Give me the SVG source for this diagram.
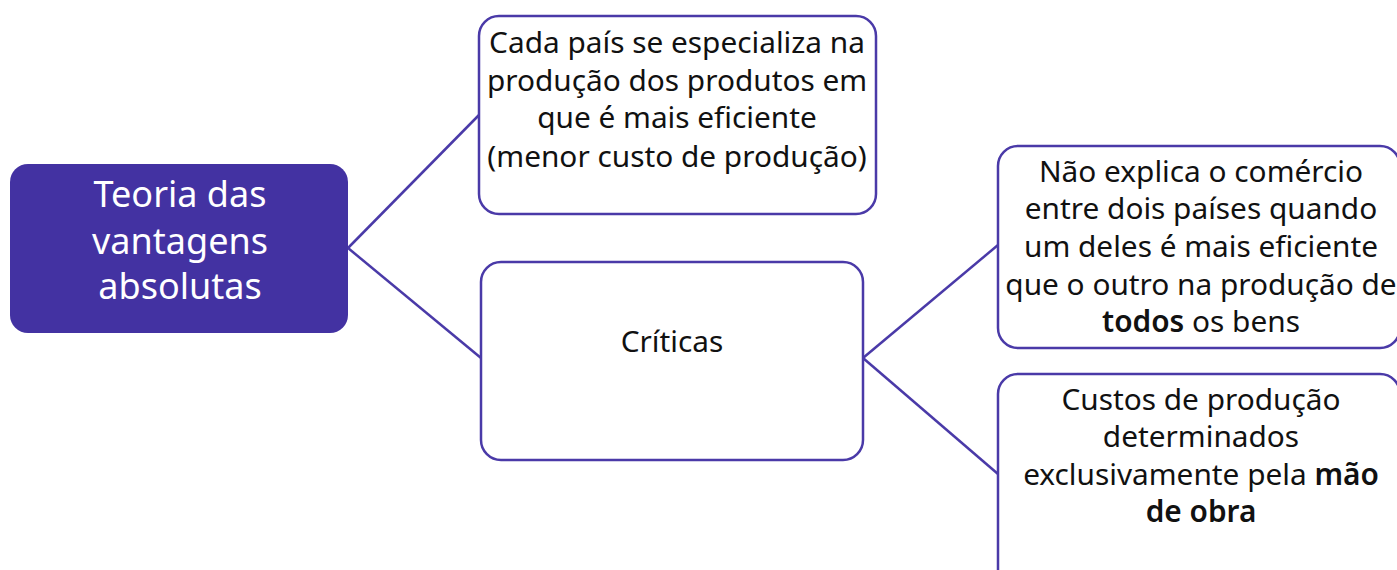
<svg xmlns="http://www.w3.org/2000/svg" width="1397" height="570" viewBox="0 0 1397 570">
<style>
.box{fill:#fff;stroke:#4A3AA8;stroke-width:2.5}
.t{font-family:"Noto Sans",sans-serif;font-size:29.8px;fill:#111;text-anchor:middle}
.w{font-family:"Noto Sans",sans-serif;font-size:36px;fill:#fff;text-anchor:middle}
.b{font-weight:600}
.c{stroke:#4A3AA8;stroke-width:2.5;fill:none}
</style>
<rect width="1397" height="570" fill="#fff"/>
<g id="connectors">
<line class="c" x1="348" y1="248" x2="479" y2="115"/>
<line class="c" x1="348" y1="248" x2="481" y2="358"/>
<line class="c" x1="863" y1="358" x2="998" y2="245"/>
<line class="c" x1="863" y1="358" x2="998" y2="474"/>
</g>
<g id="main">
<rect x="10" y="164" width="338" height="169" rx="18" fill="#4332A2"/>
<text class="w" x="180" y="207">Teoria das</text>
<text class="w" x="180" y="254">vantagens</text>
<text class="w" x="180" y="299">absolutas</text>
</g>
<g id="especializa">
<rect class="box" x="479" y="16" width="397" height="198" rx="20"/>
<text class="t" x="677" y="53">Cada país se especializa na</text>
<text class="t" x="677" y="91">produção dos produtos em</text>
<text class="t" x="677" y="128">que é mais eficiente</text>
<text class="t" x="677" y="167">(menor custo de produção)</text>
</g>
<g id="criticas">
<rect class="box" x="481" y="262" width="382" height="198" rx="20"/>
<text class="t" x="672" y="352">Críticas</text>
</g>
<g id="nao-explica">
<rect class="box" x="998" y="146" width="402" height="202" rx="20"/>
<text class="t" x="1201" y="182">Não explica o comércio</text>
<text class="t" x="1201" y="219">entre dois países quando</text>
<text class="t" x="1201" y="257">um deles é mais eficiente</text>
<text class="t" x="1201" y="295">que o outro na produção de</text>
<text class="t" x="1201" y="332"><tspan class="b">todos</tspan> os bens</text>
</g>
<g id="custos">
<rect class="box" x="998" y="374" width="402" height="220" rx="20"/>
<text class="t" x="1201" y="410">Custos de produção</text>
<text class="t" x="1201" y="447">determinados</text>
<text class="t" x="1201" y="485">exclusivamente pela <tspan class="b">mão</tspan></text>
<text class="t" x="1201" y="522"><tspan class="b">de obra</tspan></text>
</g>
</svg>
